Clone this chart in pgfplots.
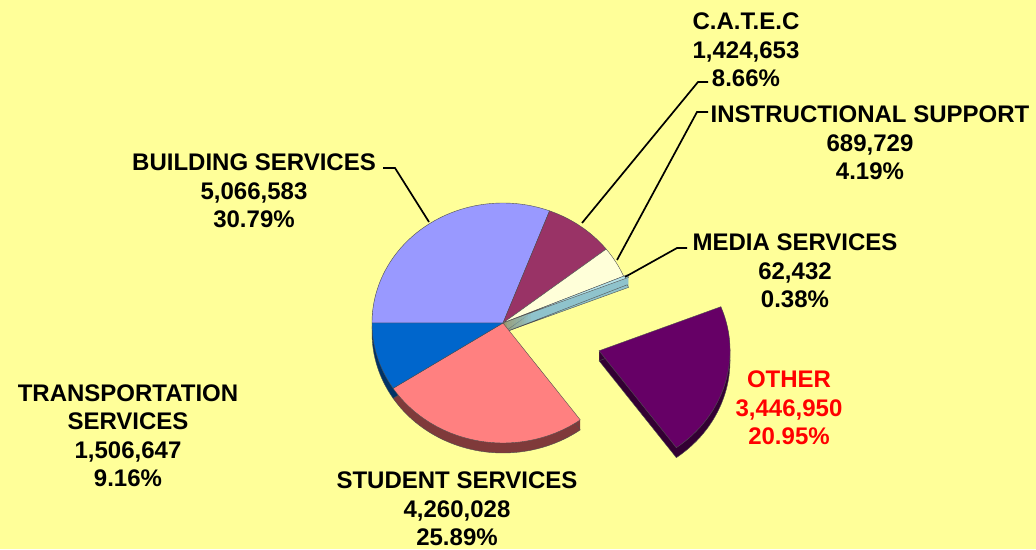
\documentclass[border=0pt]{standalone}
\usepackage{pgfplots}
\usepackage{pgfplotstable}
\pgfplotsset{compat=1.18}
\usepackage{fontspec}
\setmainfont{Liberation Sans}

\definecolor{bg}{HTML}{FFFF99}
\definecolor{cBuild}{HTML}{9999FF}\definecolor{sBuild}{HTML}{4D4D80}
\definecolor{cCatec}{HTML}{993366}\definecolor{sCatec}{HTML}{4D1A33}
\definecolor{cInstr}{HTML}{FFFFD9}\definecolor{sInstr}{HTML}{9A9A70}
\definecolor{cMedia}{HTML}{B5E2E8}\definecolor{sMedia}{HTML}{8FC3CC}
\definecolor{cOther}{HTML}{660066}\definecolor{sOther}{HTML}{330033}
\definecolor{cStud}{HTML}{FF8080}\definecolor{sStud}{HTML}{7F3A3A}
\definecolor{cTrans}{HTML}{0066CC}\definecolor{sTrans}{HTML}{003366}
\definecolor{edge}{HTML}{505050}

\tikzset{lbl/.style={font=\fontsize{24}{28.5}\selectfont\bfseries, align=center, inner sep=0pt, anchor=center}}

\pgfplotstableread{
name value pct
Building 5066583 30.79
CATEC 1424653 8.66
Instructional 689729 4.19
Media 62432 0.38
Other 3446950 20.95
Student 4260028 25.89
Transport 1506647 9.16
}\budget

\pgfplotstablegetelem{0}{pct}\of\budget \let\pA\pgfplotsretval
\pgfplotstablegetelem{1}{pct}\of\budget \let\pB\pgfplotsretval
\pgfplotstablegetelem{2}{pct}\of\budget \let\pC\pgfplotsretval
\pgfplotstablegetelem{3}{pct}\of\budget \let\pD\pgfplotsretval
\pgfplotstablegetelem{4}{pct}\of\budget \let\pE\pgfplotsretval
\pgfplotstablegetelem{5}{pct}\of\budget \let\pF\pgfplotsretval
\pgfplotstablegetelem{6}{pct}\of\budget \let\pG\pgfplotsretval

\pgfmathsetmacro\ftot{\pA+\pB+\pC+\pD+\pE+\pF+\pG}
\pgfmathsetmacro\fac{360/\ftot}
\pgfmathsetmacro\tA{180-\pA*\fac}
\pgfmathsetmacro\tB{\tA-\pB*\fac}
\pgfmathsetmacro\tC{\tB-\pC*\fac}
\pgfmathsetmacro\tD{\tC-\pD*\fac}
\pgfmathsetmacro\tE{\tD-\pE*\fac}
\pgfmathsetmacro\tF{\tE-\pF*\fac}
\pgfmathsetmacro\tG{\tF-\pG*\fac}

% pie centre (pixel-like units, y up)
\def\CX{503}\def\CY{226}
\def\RX{131pt}\def\RY{120pt}
% exploded slices
\pgfmathsetmacro\mE{(\tD+\tE)/2}
\pgfmathsetmacro\EX{\CX+100*cos(\mE)}
\pgfmathsetmacro\EY{\CY+100*sin(\mE)}
\pgfmathsetmacro\mD{(\tC+\tD)/2}
\pgfmathsetmacro\DX{\CX+4*cos(\mD)}
\pgfmathsetmacro\DY{\CY+4*sin(\mD)}

% wedge path: cx, cy, lo, hi, yoffset
\newcommand\wpath[5]{(axis cs:#1,{#2-#5}) -- ++(#3:\RX\space and \RY) arc[start angle=#3,end angle=#4,x radius=\RX,y radius=\RY] -- cycle}
\newcommand\side[5]{\fill[#5] \wpath{#1}{#2}{#3}{#4}{1} \wpath{#1}{#2}{#3}{#4}{2} \wpath{#1}{#2}{#3}{#4}{3} \wpath{#1}{#2}{#3}{#4}{4} \wpath{#1}{#2}{#3}{#4}{5} \wpath{#1}{#2}{#3}{#4}{6} \wpath{#1}{#2}{#3}{#4}{7} \wpath{#1}{#2}{#3}{#4}{8} \wpath{#1}{#2}{#3}{#4}{9} \wpath{#1}{#2}{#3}{#4}{10};
  \draw[edge, line width=0.4pt] \wpath{#1}{#2}{#3}{#4}{10};}
\newcommand\topf[5]{\filldraw[fill=#5, draw=edge, line width=0.4pt] \wpath{#1}{#2}{#3}{#4}{0};}

\begin{document}
\begin{tikzpicture}
\begin{axis}[
  scale only axis, width=1036pt, height=549pt,
  xmin=0, xmax=1036, ymin=0, ymax=549,
  axis lines=none, ticks=none, clip=false,
]
\fill[bg] (rel axis cs:0,0) rectangle (rel axis cs:1,1);

% sides
\side{\CX}{\CY}{\tA}{180}{sBuild}
\side{\CX}{\CY}{\tB}{\tA}{sCatec}
\side{\CX}{\CY}{\tC}{\tB}{sInstr}
\side{\DX}{\DY}{\tD}{\tC}{sMedia}
\side{\CX}{\CY}{\tF}{\tE}{sStud}
\side{\CX}{\CY}{\tG}{\tF}{sTrans}
\side{\EX}{\EY}{\tE}{\tD}{sOther}

% tops
\topf{\CX}{\CY}{\tA}{180}{cBuild}
\topf{\CX}{\CY}{\tB}{\tA}{cCatec}
\topf{\CX}{\CY}{\tC}{\tB}{cInstr}
\topf{\DX}{\DY}{\tD}{\tC}{cMedia}
\topf{\CX}{\CY}{\tF}{\tE}{cStud}
\topf{\CX}{\CY}{\tG}{\tF}{cTrans}
\topf{\EX}{\EY}{\tE}{\tD}{cOther}

% leader lines
\draw[black, line width=1.7pt] (axis cs:383,381) -- (axis cs:395,381) -- (axis cs:429,327);
\draw[black, line width=1.7pt] (axis cs:708,467) -- (axis cs:698,467) -- (axis cs:582,326);
\draw[black, line width=1.7pt] (axis cs:708,437) -- (axis cs:697,437) -- (axis cs:617,289);
\draw[black, line width=1.7pt] (axis cs:687,301) -- (axis cs:677,301) -- (axis cs:625,272);

% labels
\node[lbl] at (axis cs:254,358) {BUILDING SERVICES\\5,066,583\\30.79\%};
\node[lbl] at (axis cs:746,499) {C.A.T.E.C\\1,424,653\\8.66\%};
\node[lbl] at (axis cs:870,406) {INSTRUCTIONAL SUPPORT\\689,729\\4.19\%};
\node[lbl] at (axis cs:795,278) {MEDIA SERVICES\\62,432\\0.38\%};
\node[lbl, text=red] at (axis cs:789,141) {OTHER\\3,446,950\\20.95\%};
\node[lbl] at (axis cs:457,40) {STUDENT SERVICES\\4,260,028\\25.89\%};
\node[lbl] at (axis cs:128,113.5) {TRANSPORTATION\\SERVICES\\1,506,647\\9.16\%};
\end{axis}
\end{tikzpicture}
\end{document}
